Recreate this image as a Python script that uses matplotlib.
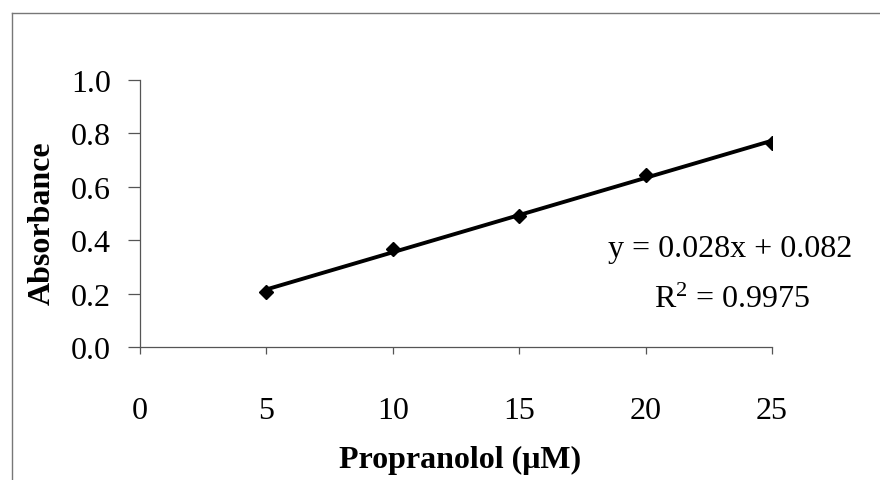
import matplotlib
matplotlib.use("Agg")
import matplotlib.pyplot as plt
from matplotlib.lines import Line2D
import numpy as np

# Data
concentration = [5, 10, 15, 20, 25]
absorbance = [0.206, 0.367, 0.490, 0.644, 0.764]
x_ticks = [0, 5, 10, 15, 20, 25]
y_ticks = [0.0, 0.2, 0.4, 0.6, 0.8, 1.0]
equation_text = "y = 0.028x + 0.082"
r2_text = r"R$^{2}$ = 0.9975"

plt.rcParams['font.family'] = ['Liberation Serif', 'DejaVu Serif']
plt.rcParams['mathtext.fontset'] = 'custom'
plt.rcParams['mathtext.rm'] = 'Liberation Serif'
plt.rcParams['mathtext.it'] = 'Liberation Serif:italic'

W, H = 880, 481
fig = plt.figure(figsize=(W / 100, H / 100), dpi=100)
fig.patch.set_facecolor('white')

left, right, top, bottom = 140, 772, 81, 348
ax = fig.add_axes([left / W, 1 - bottom / H, (right - left) / W, (bottom - top) / H])

# fitted trendline from the data
coef = np.polyfit(concentration, absorbance, 1)
xs = np.array([concentration[0], concentration[-1]])
ax.plot(xs, np.polyval(coef, xs), color='black', lw=2.8, solid_capstyle='butt', zorder=2)
ax.plot(concentration, absorbance, linestyle='none', marker='D', markersize=7.5,
        color='black', zorder=3)

ax.set_xlim(0, 25)
ax.set_ylim(0, 1.0)
ax.set_xticks(x_ticks)
ax.set_yticks(y_ticks)
ax.set_xticklabels([str(v) for v in x_ticks])
ax.set_yticklabels([f"{v:.1f}" for v in y_ticks])

for s in ['top', 'right']:
    ax.spines[s].set_visible(False)
for s in ['left', 'bottom']:
    ax.spines[s].set_color('#555555')
    ax.spines[s].set_linewidth(0.9)

ax.tick_params(axis='y', direction='out', length=9, width=0.9, color='#555555',
               pad=12, labelsize=23)
ax.tick_params(axis='x', direction='out', length=5, width=0.9, color='#555555',
               pad=30, labelsize=23)

fig.text(42 / W, 1 - 223 / H, "Absorbance", rotation=90, ha='center', va='center',
         fontsize=23, fontweight='bold')
fig.text(460 / W, 1 - 460 / H, "Propranolol (\u03bcM)", ha='center', va='center',
         fontsize=23, fontweight='bold')

fig.text(730 / W, 1 - 250 / H, equation_text, ha='center', va='center', fontsize=23)
fig.text(732 / W, 1 - 300 / H, r2_text, ha='center', va='center', fontsize=23)

# outer frame (left and top edges)
fig.add_artist(Line2D([12 / W, 12 / W], [0, 1 - 14 / H], transform=fig.transFigure,
                      color='#777777', lw=1.0))
fig.add_artist(Line2D([12 / W, 1], [1 - 14 / H, 1 - 14 / H], transform=fig.transFigure,
                      color='#777777', lw=1.0))

fig.savefig('out.png', dpi=100, facecolor='white')
